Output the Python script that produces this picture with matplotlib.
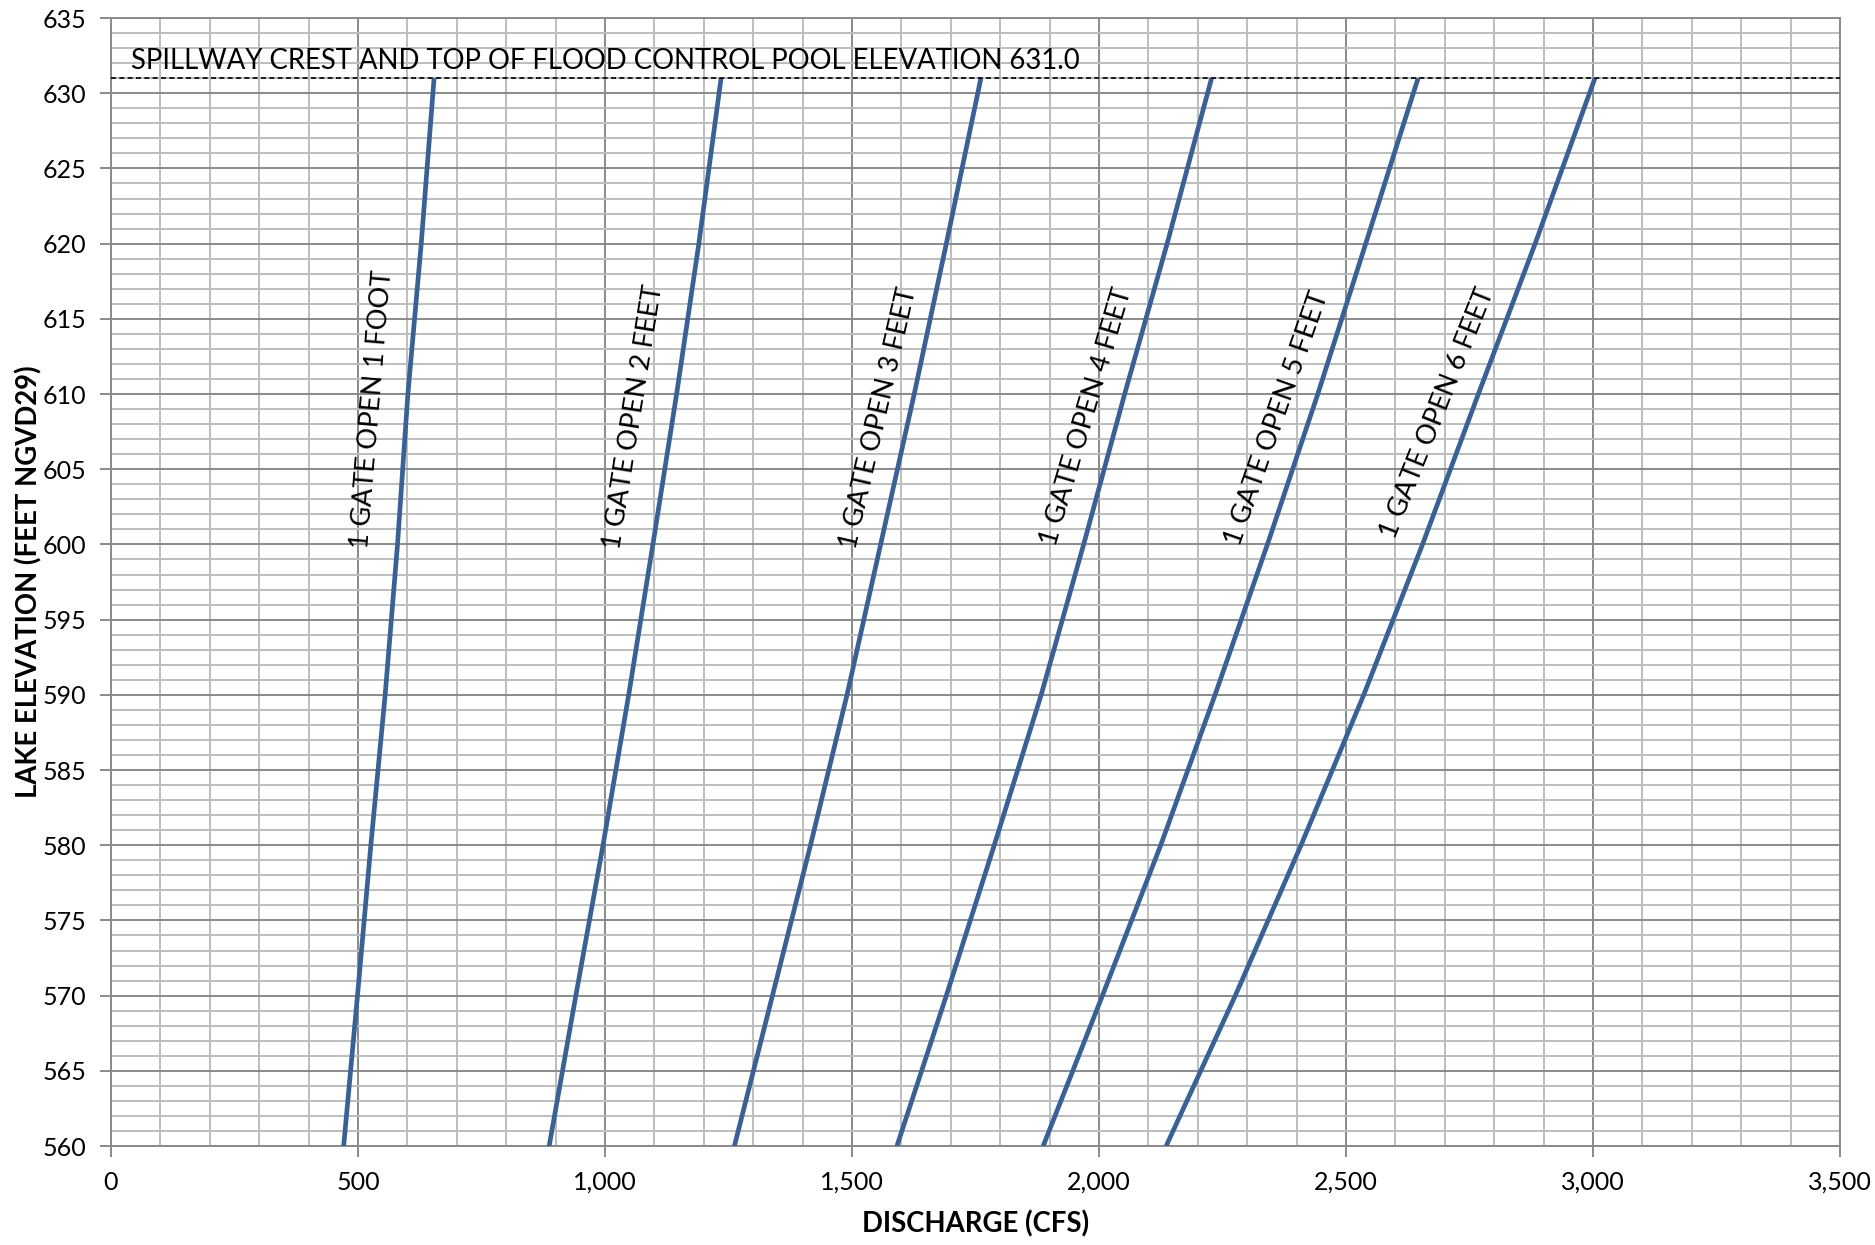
import matplotlib
matplotlib.use("Agg")
import matplotlib.pyplot as plt
from matplotlib.ticker import MultipleLocator, FuncFormatter

plt.rcParams['font.family'] = ['Lato', 'DejaVu Sans']

elevations = [560, 570, 580, 590, 600, 610, 620, 631]
gate_1ft = [471, 499, 526, 555, 580, 601, 628, 654]
gate_2ft = [887, 941, 996, 1048, 1097, 1145, 1190, 1235]
gate_3ft = [1262, 1339, 1416, 1490, 1558, 1626, 1691, 1761]
gate_4ft = [1591, 1691, 1788, 1883, 1969, 2052, 2138, 2228]
gate_5ft = [1887, 2007, 2125, 2235, 2341, 2443, 2540, 2646]
gate_6ft = [2136, 2276, 2409, 2536, 2655, 2768, 2883, 3004]

series = [gate_1ft, gate_2ft, gate_3ft, gate_4ft, gate_5ft, gate_6ft]
labels = ["1 GATE OPEN 1 FOOT", "1 GATE OPEN 2 FEET", "1 GATE OPEN 3 FEET",
          "1 GATE OPEN 4 FEET", "1 GATE OPEN 5 FEET", "1 GATE OPEN 6 FEET"]
label_x = [528, 1058, 1555, 1974, 2361, 2686]
label_y = [609.0, 608.5, 608.4, 608.5, 608.4, 608.7]
label_rot = [85.2, 80.9, 77.0, 73.6, 70.7, 68.2]

spillway_elev = 631.0
spillway_text = "SPILLWAY CREST AND TOP OF FLOOD CONTROL POOL ELEVATION 631.0"

fig = plt.figure(figsize=(18.75, 12.45), dpi=100)
ax = fig.add_axes([0.0592, 0.0795, 0.9221, 0.906])

ax.set_xlim(0, 3500)
ax.set_ylim(560, 635)
ax.xaxis.set_major_locator(MultipleLocator(500))
ax.xaxis.set_minor_locator(MultipleLocator(100))
ax.yaxis.set_major_locator(MultipleLocator(5))
ax.yaxis.set_minor_locator(MultipleLocator(1))
ax.xaxis.set_major_formatter(FuncFormatter(lambda v, p: f"{int(v):,}"))

ax.grid(which='minor', color='#bdbdbd', linewidth=1.4)
ax.grid(which='major', color='#8a8a8a', linewidth=1.4)
ax.set_axisbelow(True)
for s in ax.spines.values():
    s.set_color('#8a8a8a')
    s.set_linewidth(1.4)
ax.tick_params(which='major', length=8, width=1.4, color='#8a8a8a', labelsize=18, pad=10)
ax.tick_params(which='minor', length=0)

for vals in series:
    ax.plot(vals, elevations, color='#3a6195', linewidth=3.4, solid_capstyle='butt', zorder=3)

ax.axhline(spillway_elev, color='black', linestyle=(0, (3, 2)), linewidth=1.2, zorder=3)
ax.text(40, spillway_elev + 0.3, spillway_text, fontsize=19.8, ha='left', va='bottom', zorder=4)

for txt, x, y, r in zip(labels, label_x, label_y, label_rot):
    ax.text(x, y, txt, fontsize=19.6, rotation=r, rotation_mode='anchor',
            ha='center', va='center', zorder=4)

ax.set_xlabel("DISCHARGE (CFS)", fontsize=19.8, fontweight='bold', labelpad=12)
ax.set_ylabel("LAKE ELEVATION (FEET NGVD29)", fontsize=19.8, fontweight='bold', labelpad=0)

fig.savefig("out.png", dpi=100)
